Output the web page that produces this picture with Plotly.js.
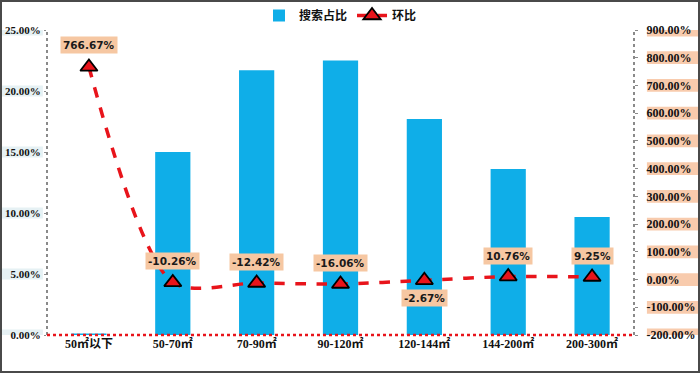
<!DOCTYPE html>
<html>
<head>
<meta charset="utf-8">
<script src="https://cdn.plot.ly/plotly-3.0.1.min.js"></script>
<style>
html,body{margin:0;padding:0;background:#fff;}
#chart{width:700px;height:373px;box-sizing:border-box;border:2px solid #4a4a4a;}
</style>
</head>
<body>
<div id="chart"></div>
<script>
const categories = ['50㎡以下', '50-70㎡', '70-90㎡', '90-120㎡', '120-144㎡', '144-200㎡', '200-300㎡'];
const shareValues = [0.0012, 0.150, 0.217, 0.225, 0.177, 0.136, 0.0967];
const ratioValues = [766.67, -10.26, -12.42, -16.06, -2.67, 10.76, 9.25];
const ratioLabels = ['766.67%', '-10.26%', '-12.42%', '-16.06%', '-2.67%', '10.76%', '9.25%'];
const labelBelow = [false, false, false, false, true, false, false];
const leftTicks = [0, 0.05, 0.10, 0.15, 0.20, 0.25];
const leftTickText = ['0.00%', '5.00%', '10.00%', '15.00%', '20.00%', '25.00%'];
const rightTicks = [-200, -100, 0, 100, 200, 300, 400, 500, 600, 700, 800, 900];
const rightTickText = ['-200.00%', '-100.00%', '0.00%', '100.00%', '200.00%', '300.00%', '400.00%', '500.00%', '600.00%', '700.00%', '800.00%', '900.00%'];

const barTrace = {
  type: 'bar', name: '搜索占比', x: categories, y: shareValues,
  marker: {color: '#0FAEE8'}, yaxis: 'y', hoverinfo: 'skip'
};
const lineTrace = {
  type: 'scatter', mode: 'lines+markers', name: '环比', x: categories, y: ratioValues,
  yaxis: 'y2', line: {color: '#E8141B', width: 3.5, dash: 'dash', shape: 'spline', smoothing: 0.8},
  marker: {symbol: 'triangle-up', size: 15, color: '#E8141B', line: {color: '#000', width: 1.8}},
  hoverinfo: 'skip'
};

const annotations = categories.map((c, i) => ({
  x: c, y: ratioValues[i], xref: 'x', yref: 'y2',
  text: ratioLabels[i], showarrow: false,
  yshift: labelBelow[i] ? -18 : (i === 0 ? 22 : 21),
  bgcolor: '#F6C7A2', borderpad: 2,
  font: {family: 'DejaVu Sans, Arial, sans-serif', size: 10.5, color: '#1a1a1a', weight: 'bold'}
}));

const shapes = [];
rightTicks.forEach(v => shapes.push({
  type: 'rect', xref: 'paper', yref: 'y2', x0: 1.022, x1: 1.12, y0: v - 23, y1: v + 23,
  fillcolor: '#F8CBAD', line: {width: 0}, layer: 'below'
}));
leftTicks.forEach(v => shapes.push({
  type: 'rect', xref: 'paper', yref: 'y', x0: -0.078, x1: -0.007, y0: v - 0.0046, y1: v + 0.0046,
  fillcolor: '#E6F1F4', line: {width: 0}, layer: 'below'
}));
shapes.push({type: 'line', xref: 'paper', yref: 'paper', x0: 0, x1: 0, y0: 0, y1: 1,
  line: {color: '#8a8a8a', width: 2, dash: 'dot'}});
shapes.push({type: 'line', xref: 'paper', yref: 'paper', x0: 1, x1: 1, y0: 0, y1: 1,
  line: {color: '#8a8a8a', width: 2, dash: 'dot'}});
shapes.push({type: 'line', xref: 'paper', yref: 'paper', x0: 0, x1: 1, y0: 0, y1: 0,
  line: {color: '#E8141B', width: 2.5, dash: 'dot'}});

const leftFont = {family: 'Liberation Serif, serif', size: 11, color: '#111', weight: 'bold'};
const rightFont = {family: 'Liberation Serif, serif', size: 12, color: '#111', weight: 'bold'};

const layout = {
  width: 696, height: 369,
  margin: {l: 45, r: 64, t: 28, b: 36, autoexpand: false},
  paper_bgcolor: '#fff', plot_bgcolor: '#fff',
  bargap: 0.58,
  showlegend: true,
  legend: {orientation: 'h', x: 0.5, xanchor: 'center', y: 1.0, yanchor: 'bottom',
    font: {family: 'Noto Sans CJK SC, sans-serif', size: 12, color: '#111', weight: 'bold'},
    traceorder: 'normal'},
  xaxis: {type: 'category', showgrid: false, showline: false, zeroline: false, ticks: '',
    automargin: false,
    tickfont: {family: 'Liberation Serif, Noto Sans CJK SC, serif', size: 12, color: '#111', weight: 'bold'}},
  yaxis: {range: [0, 0.25], tickvals: leftTicks, ticktext: leftTickText, showgrid: false, zeroline: false,
    automargin: false,
    showline: false, ticks: 'outside', ticklen: 2, tickcolor: '#8a8a8a', ticklabelstandoff: 1, tickfont: leftFont},
  yaxis2: {range: [-200, 900], overlaying: 'y', side: 'right', tickvals: rightTicks, ticktext: rightTickText,
    automargin: false,
    showgrid: false, zeroline: false, showline: false,
    ticks: 'outside', ticklen: 3, tickcolor: '#8a8a8a', ticklabelstandoff: 6, tickfont: rightFont},
  annotations: annotations,
  shapes: shapes
};

Plotly.newPlot('chart', [barTrace, lineTrace], layout, {displayModeBar: false, staticPlot: true});
</script>
</body>
</html>
